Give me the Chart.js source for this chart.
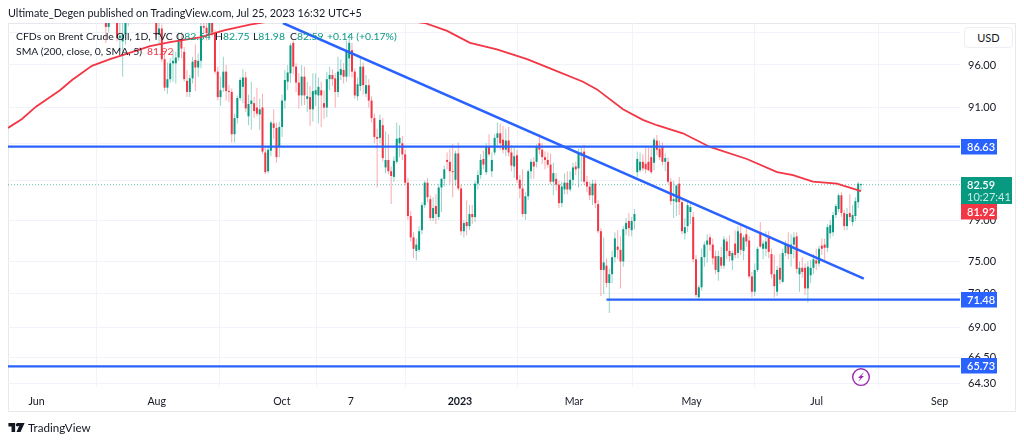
<!DOCTYPE html>
<html>
<head>
<meta charset="utf-8">
<title>Brent Crude Oil</title>
<script src="https://cdn.jsdelivr.net/npm/chart.js@4/dist/chart.umd.min.js"></script>
<style>
  html, body { margin: 0; padding: 0; background: #fff; }
  body { width: 1024px; height: 442px; position: relative; overflow: hidden; font-family: Lato, "Open Sans", sans-serif; color: #131722; }
  #scoreChart { position: absolute; left: 0; top: 0; }
  .txt { position: absolute; white-space: nowrap; font-size: 10.4px; line-height: 14px; }
  .up { color: #089981; }
  .down { color: #f23645; }
  #frame { position: absolute; left: 8px; top: 23px; width: 1006px; height: 387px; border: 1px solid #e6e8ee; }
  #usd { position: absolute; left: 964px; top: 27px; width: 47px; height: 19px; border: 1px solid #eceef3; border-radius: 4px; background: #fff; font-size: 11px; line-height: 19px; text-align: center; }
</style>
</head>
<body>
<div id="frame"></div>
<canvas id="scoreChart" width="1024" height="442"></canvas>
<div class="txt" style="left:8px;top:6px;font-size:10.8px">Ultimate_Degen published on TradingView.com, Jul 25, 2023 16:32 UTC+5</div>
<div class="txt" style="left:16px;top:29px">CFDs on Brent Crude Oil, 1D, TVC</div>
<div class="txt" style="left:176px;top:29px">O<span class="up">82.54</span></div>
<div class="txt" style="left:215px;top:29px">H<span class="up">82.75</span></div>
<div class="txt" style="left:253px;top:29px">L<span class="up">81.98</span></div>
<div class="txt" style="left:290px;top:29px">C<span class="up">82.59</span></div>
<div class="txt up" style="left:327px;top:29px">+0.14 (+0.17%)</div>
<div class="txt" style="left:16px;top:44px">SMA (200, close, 0, SMA, 5)</div>
<div class="txt down" style="left:147px;top:44px">81.92</div>
<div id="usd">USD</div>
<svg style="position:absolute;left:8px;top:423px" width="17" height="9" viewBox="0 0 36 20"><path fill="#131722" d="M0 0h15v20H7V8H0zM19 0h17l-9 20h-9l6-14h-5z"/><circle cx="20" cy="4" r="3.6" fill="#131722"/></svg>
<div class="txt" style="left:28px;top:420px;font-size:11.6px;line-height:16px">TradingView</div>

<script>
const ctx = document.getElementById('scoreChart').getContext('2d');

const teal = '#089981';
const red = '#f23645';
const blue = '#2962ff';

// daily candles [open, high, low, close], the first row sits at bar 34
const firstBar = 34;
const candles = [
    [102.8,104,98.7,100.7],[100.7,105,100,104.6],[105,107.5,103,107],[107,108.5,104,107.1],[107,107.5,98.9,99.3],
    [99.3,101.5,97.8,99.6],[98.9,102,94.6,99.7],[99.7,101.5,98.5,101.2],[101.2,106.5,100.8,106.2],[106.2,107.8,105,107.2],
    [107.2,107.5,105,106.9],[106.9,107,103,103.9],[103.9,105,102.6,103.2],[103.2,105.5,102.7,105.1],[105.1,107,103.5,104.4],
    [104.4,107,104,106.6],[106.6,108,104.5,107.1],[107.1,110.5,106,110],[110,110.5,99.3,99.7],[99.7,102,98.6,100.5],
    [100.5,101,96.4,96.7],[96.7,97.5,92.9,93.3],[93.3,96.3,92.6,94.3],[94.3,96.8,93.9,96.2],[96.2,97.8,94,96.5],
    [96.2,97.6,93.8,96.9],[96.9,100,96.5,99],[99,100,96.8,98],[97.6,98.2,94,94.3],[94.1,95.4,92.2,92.8],
    [92.8,94.8,92.2,94.4],[94.4,97,93.8,96.4],[96.6,98.5,92.9,95.7],[95.7,97.4,94.6,96.5],[96.5,101.5,95.6,100.8],
    [100.8,102.5,99.8,100.6],[100.6,102,99,99.9],[99.9,104.6,99.3,104.2],[104.3,105,99.5,100],[99.9,100.3,94.9,95.2],
    [95.2,95.8,91.8,92.2],[92.2,94.6,91.2,93],[93.3,97,92.8,95.2],[95.2,96,91.8,92.9],[92.9,93.6,91.6,92.8],
    [92.8,93.2,87.1,88],[88,90.3,87.1,89.8],[89.8,92.4,89.2,92.1],[92.1,94.5,91.8,94.2],[93.4,95.5,91.5,94.5],
    [94.5,95.2,90.5,90.9],[90,92.5,89,91.4],[91.4,94,88.5,91.8],[91.5,92.2,89.8,90.6],[91,93.3,90,90.3],
    [90.2,92,88.5,90.8],[91,92.6,85.8,86.1],[86,86.5,83.7,83.9],[84,86.6,83.8,86.3],[86.2,89.5,85.6,89.3],
    [89.2,90.8,87.5,88.7],[88.7,89.3,84.9,85.5],[86.7,89.4,85.5,88.8],[88.8,92.5,87.7,91.8],[91.8,95.4,90.9,94.2],
    [94,96,93,95.1],[95,98.7,93.9,98.4],[98.7,99,94.9,95.8],[95.8,96.2,92.8,93.9],[93.9,95,90.9,92.4],
    [92.4,96,91.2,94.6],[94.6,95.8,91.3,92.4],[92,94,90.5,92.3],[92.2,93.5,88.9,90.8],[90.8,95,89.4,92.9],
    [92.5,95,91.2,93],[92.4,94.5,89.2,93.4],[93,94,88.8,92.4],[91.5,93,89.7,91],[91,95.2,89.9,94.3],
    [94.3,95.8,93,94.8],[94.8,95.5,93.5,94.3],[94.4,95,91,92.8],[92.8,97,92.2,95.2],[94.8,96.7,94.2,95.5],
    [95.4,96.2,93.8,94.6],[94.6,99,94,97.8],[96.8,99.9,94.6,98.7],[97.8,98.7,94.5,95.2],[95.2,95.6,92,92.4],
    [92.3,94.5,91.8,93.7],[93.5,96.9,92.9,95.8],[95.8,96.3,92.5,93.6],[92.6,94.8,92.2,93.6],[93.6,94.3,91,91.8],
    [91.8,92.3,89.3,89.8],[89.8,90.3,87,87.7],[87.7,88.6,82.3,87.5],[87.6,90.2,87,89.6],[89,89.8,85,85.4],
    [84.4,88.3,83.8,85.2],[85.2,88,83.7,84],[84,84.5,80.6,83.5],[83.4,85.6,82.9,85.1],[85,89.3,84.8,87.5],
    [87,89,85.5,87.6],[87,87.8,85.2,85.8],[85.8,86.3,82.5,82.8],[82.8,83.3,79,79.4],[79.4,79.9,76.9,77.3],
    [77.3,77.8,75.3,76.2],[76,77.2,75.1,76.6],[76.1,78.4,75.9,77.9],[78,80.8,77.6,80.5],[80.5,83,80.2,82.8],
    [82.8,83.3,80.8,81.3],[81.1,81.5,78.9,79.2],[79.2,81.3,78.9,80.2],[80.4,81.6,78.6,79.6],[79.3,82.7,79,82.3],
    [82.3,83.3,79.8,83.2],[83.2,84.6,82.4,84.2],[85.2,86,84.2,85],[85,86.4,82.7,84],[84,86.9,81.3,83.9],
    [83.1,86.2,82.5,85.9],[85.9,87.1,82,82.2],[82.2,82.6,77.5,77.9],[77.9,79,77.3,78.7],[78.8,81,77.5,78.4],
    [78.4,80.5,78,79.6],[79.6,80.5,78.6,79.3],[79.3,83,78.8,82.7],[82.7,84.1,82.1,83.6],[83.6,85.8,83.2,85.2],
    [85.3,86.2,84.2,84.7],[83.9,87,83.6,86.6],[86.6,88,85.6,85.8],[84,86,83.4,85.2],[86,88,85.7,87.6],
    [87.6,89.3,86.5,88.1],[88.1,89.2,86.3,87],[87.4,88.9,85.9,86.3],[86.3,88.6,85.6,87.3],[87.3,88.8,85.6,86],
    [86,86.8,84,84.6],[84.5,86.5,83.3,85.6],[85.7,86.3,82.8,83.1],[83.1,83.6,81.2,82.2],[82.2,84.2,79.3,79.6],
    [79.6,81.8,79,81.4],[81.4,84.2,81,84],[84,85.3,83.2,85],[85,85.5,83.2,84.5],[85,86.9,84.4,86.7],
    [87,88,85.8,86.3],[86.3,87,84.8,85.5],[85.5,86.1,84.2,85.2],[85.2,86,84.4,84.7],[84.7,85.9,82.6,82.9],
    [82.9,84.9,81.5,83.8],[83.2,83.8,82,82.6],[82.6,83,80.2,80.7],[80.7,82.9,80.3,82.4],[82.1,83.8,81.6,82.8],
    [82.8,84,81.6,82.1],[82.1,84,81.9,83.1],[83.1,84.9,82.5,84.4],[84.5,85,83.6,84.2],[84.3,86.4,82.3,85.9],
    [85.7,86.7,82.9,86],[86.1,86.8,82.6,82.9],[82.9,83.5,81.8,82.4],[82.4,82.9,81,81.5],[81.5,83.1,80.5,82.7],
    [82.7,83.1,80.2,80.7],[80.6,81,77.7,77.9],[77.9,78.2,71.8,74.2],[74.2,77.3,72,74.9],[74.6,75.3,72.6,73],
    [73,74.3,70.3,73.8],[73.8,76,73,75.4],[75.4,77.8,74.9,77.2],[76.4,78,75.2,76.1],[76.1,77.4,72.5,75],
    [75,78.4,74.5,78.1],[78.1,79.2,77.5,78.7],[78.9,79.7,77.4,78.2],[78,79.3,77.4,78.9],[78.9,80.1,78.1,79.6],
    // april gap up
    [83.9,86.1,83.4,85.3],[84.1,86,83.9,85],[85,85.8,84,84.3],[84.8,86.5,83.8,84.2],[85,86.5,84,84.1],
    [85.5,86.6,83.7,83.9],[84.9,87.6,84.1,87.4],[87.3,87.9,85.7,86.3],[86.4,87.3,85.2,85.5],[86.6,87.1,84.6,85],
    [85,85.9,84,85.4],[85,85.5,82.7,82.9],[82.9,83.3,80.5,80.9],[80.9,83,79.2,81.1],[80.8,82.6,79.4,82.5],
    [82.7,83.4,79.5,80.8],[80.8,81,77.6,77.9],[77.7,79.2,77.1,78.3],[78.4,80.9,77.8,80.5],[79.8,80.8,78.6,80.3],
    [79.3,79.8,74.9,75.2],[75.2,75.6,71.7,71.9],[71.7,72.8,71.4,72.6],[72.6,76.2,72.3,75.4],[75.4,76.9,74.5,76.6],
    [76.6,77.6,74.9,77],[77.3,77.6,76,76.6],[76.6,77.2,74.7,75.3],[75.5,76,73.8,74.2],[74,76,73.2,75.5],
    [75.4,76.4,74.3,74.6],[74.6,77.4,74.3,77.1],[76.9,77.2,75.2,76],[76,77.5,75,75.5],[75.1,76,74.2,75.8],
    [76.7,78,75.3,75.6],[75.8,78.4,75.3,77.9],[77.7,78.5,75.6,76.1],[76,77.5,75.1,77.3],[77.6,78.2,76.4,76.9],
    [77,77.4,73.4,73.6],[73.6,74,71.7,72.2],[72.2,74.8,71.8,74.2],[74.2,76.4,74,76.2],[77.8,78.8,76.3,76.4],
    [76.2,77,75.2,76.7],[76.2,77.9,75.5,76.9],[77.4,77.9,75.3,75.9],[75.7,76.2,73.4,73.8],[73.8,75.6,71.7,72.7],
    [72.2,74.6,71.8,74.2],[74.4,75.7,72.9,73.3],[73.1,76.2,73,75.8],[75.8,77,75.5,76.6],[76.6,77.8,75.2,75.7],
    [75.7,77.6,74.5,76.6],[76.6,77.8,75.3,77.3],[77.4,77.8,73.9,74.3],[73.8,75,72.2,74.4],[74.4,75.4,73.5,74],
    [74.4,74.8,71.9,72.5],[72.5,75,71.2,74.5],[73.7,75.1,73,74.4],[74.4,75.7,73.8,75.2],[75.1,76.2,74.2,74.8],
    [74.8,76.5,74.5,76.2],[76.5,77.2,75.6,76.2],[76.6,77.2,75,76.3],[76.3,78.6,75.9,78.3],[77.7,79,77.2,78.5],
    [77.8,79.8,77.4,79.5],[79.5,80.6,79.2,80.4],[80.1,81.7,79.8,81.5],[81.5,81.8,79.3,79.7],[79.7,80,78,78.4],
    [78.4,80.2,78,79.6],[79.7,81.6,78.9,79.3],[78.8,80.5,78.4,79.5],[79.4,81.3,78.9,80.9],[80.8,82.9,80.2,82.7],
    [82.54,82.75,81.98,82.59]
];
const lastBar = firstBar + candles.length - 1;

// SMA 200 read at [bar, price]
const sma = [
    [-1,88.7],[4,89.7],[9,91.1],[17.6,93],[21.9,94.2],[29,95.9],[35.5,96.7],[40.8,97.3],[49.8,98.3],[56.9,98.8],
    [67.6,99.4],[76.6,100.3],[85.5,101],[90.9,101.3],[119.5,102.5],[148,101.2],[156,100.2],[164.2,98.7],[173.8,97.9],
    [184.6,96.7],[192.8,95.6],[204.6,94],[209.6,93.1],[218.9,90.8],[226,89.6],[231,89],[240.3,88.1],[250,86.6],
    [263.2,85.3],[274,83.9],[279.7,83.6],[286.8,82.9],[295.4,82.7],[304,81.92]
];

const xMin = -1, xMax = 339.4;
const timeTicks = { 9.2: 'Jun', 52.2: 'Aug', 96.9: 'Oct', 121.6: '7', 160.6: '2023', 201.4: 'Mar', 243.4: 'May', 288.1: 'Jul', 332.1: 'Sep' };
const priceTicks = [100, 96, 91, 87, 83, 79, 75, 72, 69, 66.5, 64.3];
const hiddenPrices = [100, 87, 83];

function pt(rows) {
    return rows.map(r => ({ x: r[0], y: r[1] }));
}

function hline(value, from, width) {
    return {
        type: 'line', data: pt([[from, value], [xMax, value]]), borderColor: blue, borderWidth: width,
        pointRadius: 0, order: 0
    };
}

// price tags and the little event icon sit on top of everything
const overlay = {
    id: 'overlay',
    afterDraw(chart) {
        const c = chart.ctx, y = chart.scales.y, x = chart.scales.x;
        const tag = (text, py, bg, w) => {
            c.fillStyle = bg;
            c.fillRect(961, py - 8, w, 15.5);
            c.fillStyle = '#fff';
            c.font = '600 11px Lato, "Open Sans", sans-serif';
            c.textBaseline = 'middle';
            c.textAlign = 'left';
            c.fillText(text, 967, py + 0.5);
        };
        const at = v => Math.round(y.getPixelForValue(v));
        tag('86.63', at(86.63), blue, 36);
        tag('71.48', at(71.48), blue, 36);
        tag('65.73', at(65.73), blue, 36);

        const py = at(82.59);
        c.fillStyle = teal;
        c.fillRect(961, py - 8, 51, 27);
        c.fillStyle = '#fff';
        c.font = '600 11px Lato, "Open Sans", sans-serif';
        c.textBaseline = 'middle';
        c.textAlign = 'left';
        c.fillText('82.59', 967, py + 0.5);
        c.fillStyle = '#c9ebe3';
        c.font = '11px Lato, "Open Sans", sans-serif';
        c.fillText('10:27:41', 967, py + 12.5);
        // the SMA tag gets pushed below the last price tag
        tag('81.92', py + 27, red, 36);

        // lightning marker under the last bar
        const ix = x.getPixelForValue(lastBar), iy = y.getPixelForValue(64.85);
        c.strokeStyle = '#9c27b0';
        c.fillStyle = '#9c27b0';
        c.lineWidth = 1.4;
        c.beginPath();
        c.arc(ix, iy, 8.3, 0, Math.PI * 2);
        c.stroke();
        c.beginPath();
        c.moveTo(ix + 3, iy - 5);
        c.lineTo(ix - 3, iy + 1);
        c.lineTo(ix - 0.4, iy + 1);
        c.lineTo(ix - 3, iy + 5);
        c.lineTo(ix + 3, iy - 1);
        c.lineTo(ix + 0.4, iy - 1);
        c.closePath();
        c.fill();
    }
};

let priceChart = new Chart(ctx, {
    type: 'bar',
    data: {
        datasets: [
            // wicks
            {
                data: candles.map((r, i) => ({ x: firstBar + i, y: [r[2], r[1]] })),
                backgroundColor: candles.map(r => r[3] >= r[0] ? 'rgba(8,153,129,0.42)' : 'rgba(242,54,69,0.42)'),
                barThickness: 1, grouped: false, inflateAmount: 0, order: 3
            },
            // bodies
            {
                data: candles.map((r, i) => ({ x: firstBar + i, y: [r[0], r[3]] })),
                backgroundColor: candles.map(r => r[3] >= r[0] ? teal : red),
                barThickness: 2, grouped: false, inflateAmount: 0, minBarLength: 1, order: 2
            },
            {
                type: 'line', data: pt([[xMin, 82.59], [xMax, 82.59]]), borderColor: 'rgba(8,153,129,0.6)',
                borderWidth: 1, borderDash: [1, 2], pointRadius: 0, order: 4
            },
            {
                type: 'line', data: pt(sma), borderColor: red, borderWidth: 1.8, pointRadius: 0, tension: 0, order: 1
            },
            {
                type: 'line', data: pt([[97.3, 101.2], [305, 73.4]]), borderColor: blue, borderWidth: 2.5,
                pointRadius: 0, order: 0
            },
            hline(86.63, xMin, 2.2),
            hline(71.48, 213, 2.2),
            hline(65.73, xMin, 2.2)
        ]
    },
    plugins: [overlay],
    options: {
        responsive: false,
        animation: false,
        layout: { padding: { left: 8, top: 23, right: 9, bottom: 31 } },
        plugins: { legend: { display: false }, tooltip: { enabled: false } },
        scales: {
            x: {
                type: 'linear',
                min: xMin,
                max: xMax,
                offset: false,
                afterBuildTicks(scale) {
                    scale.ticks = Object.keys(timeTicks).map(k => ({ value: Number(k) }));
                },
                afterFit(scale) { scale.height = 24; },
                grid: { color: '#f0f3fa', drawTicks: false },
                border: { display: false },
                ticks: {
                    autoSkip: false,
                    maxRotation: 0,
                    padding: 8,
                    color: '#131722',
                    font: c => ({
                        family: 'Lato, "Open Sans", sans-serif',
                        size: 10.6,
                        weight: c.tick && c.tick.value === 160.6 ? 'bold' : 'normal'
                    }),
                    callback: value => timeTicks[value]
                }
            },
            y: {
                type: 'logarithmic',
                position: 'right',
                min: 64.05,
                max: 101.2,
                afterBuildTicks(scale) {
                    scale.ticks = priceTicks.map(v => ({ value: v }));
                },
                afterFit(scale) { scale.width = 55; },
                grid: { color: '#f0f3fa', drawTicks: false },
                border: { display: false },
                ticks: {
                    autoSkip: false,
                    padding: 8,
                    color: '#131722',
                    font: { family: 'Lato, "Open Sans", sans-serif', size: 11 },
                    callback: value => hiddenPrices.includes(value) ? '' : value.toFixed(2)
                }
            }
        }
    }
});
</script>
</body>
</html>
